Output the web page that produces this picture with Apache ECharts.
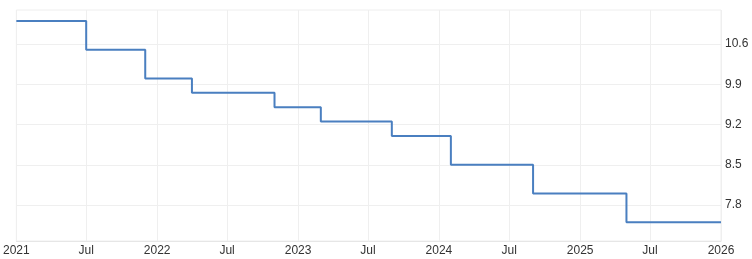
<!DOCTYPE html>
<html><head><meta charset="utf-8">
<script src="https://cdn.jsdelivr.net/npm/echarts@6/dist/echarts.min.js"></script>
<style>html,body{margin:0;padding:0;background:#fff}#c{width:752px;height:259px}</style>
</head><body><div id="c"></div>
<script>
const dates = ['2021-01-01','2021-07-01','2021-12-01','2022-04-01','2022-11-01','2023-03-01','2023-09-01','2024-02-01','2024-09-01','2025-05-01','2026-01-01'];
const values = [11.0,10.5,10.0,9.75,9.5,9.25,9.0,8.5,8.0,7.5,7.5];
const yTicks = [7.8,8.5,9.2,9.9,10.6];
const xTicks = ['2021-01-01','2021-07-01','2022-01-01','2022-07-01','2023-01-01','2023-07-01','2024-01-01','2024-07-01','2025-01-01','2025-07-01','2026-01-01'];
const yMin = 7.175, yMax = 11.19;

const ts = s => { const [y,m,d] = s.split('-').map(Number); return Date.UTC(y,m-1,d); };
const xTickVals = xTicks.map(ts);
const chart = echarts.init(document.getElementById('c'), null, {renderer:'canvas'});
const font = 'Arial, "Liberation Sans", sans-serif';
chart.setOption({
  animation:false,
  grid:{left:16,right:31,top:10,bottom:18,show:true,borderColor:'#eeeeee',borderWidth:1},
  xAxis:{type:'value',min:ts('2021-01-01'),max:ts('2026-01-01'),
    axisLine:{show:true,lineStyle:{color:'#e6e6e6'}},
    axisTick:{show:false,customValues:xTickVals},
    axisLabel:{customValues:xTickVals,color:'#333',fontSize:12,fontFamily:font,margin:4,
      formatter:v=>{const d=new Date(v);return d.getUTCMonth()===0?String(d.getUTCFullYear()):'Jul';}},
    splitLine:{show:true,lineStyle:{color:'#efefef',width:1}}},
  yAxis:{type:'value',position:'right',min:yMin,max:yMax,
    axisLine:{show:false},axisTick:{show:false,customValues:yTicks},
    axisLabel:{customValues:yTicks,color:'#333',fontSize:12,fontFamily:font,margin:4,formatter:v=>v.toFixed(1)},
    splitLine:{show:true,lineStyle:{color:'#efefef',width:1}}},
  series:[{type:'line',step:'end',symbol:'none',
    data:dates.map((d,i)=>[ts(d),values[i]]),
    lineStyle:{color:'#4a7fc0',width:2}}]
});
</script></body></html>
